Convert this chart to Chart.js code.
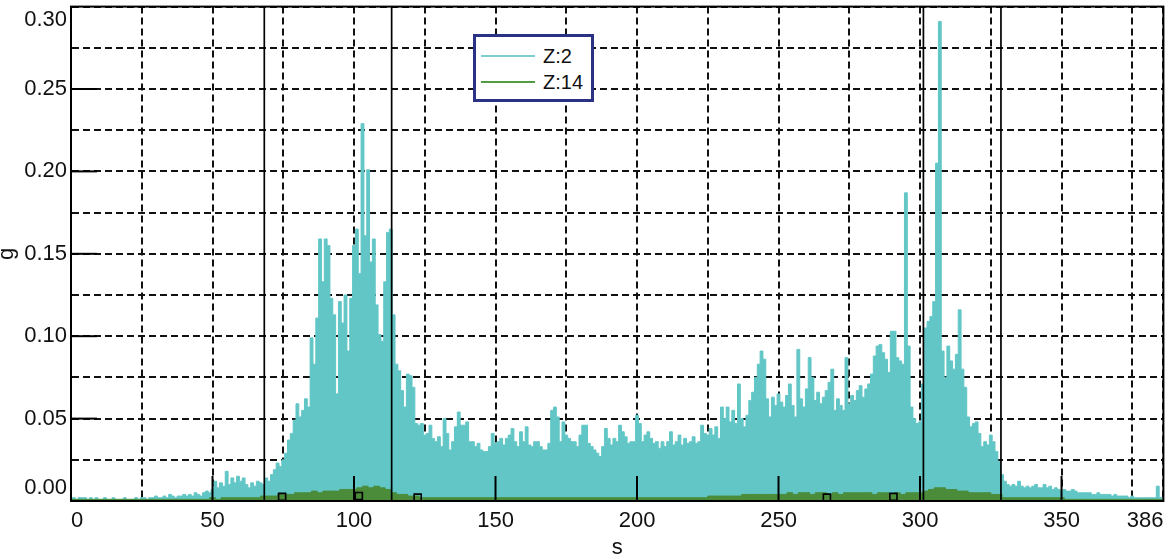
<!DOCTYPE html>
<html>
<head>
<meta charset="utf-8">
<script src="https://cdn.jsdelivr.net/npm/chart.js@4.4.1/dist/chart.umd.min.js"></script>
<style>
  body { margin: 0; background: #fff; }
  #wrap { position: relative; width: 1170px; height: 560px; }
  #legend {
    position: absolute; left: 473px; top: 34px; width: 121px; height: 68px;
    box-sizing: border-box; border: 3px solid #2b3183; background: #fff;
    font-family: "Liberation Sans", Arial, sans-serif; font-size: 20px; color: #111;
  }
  .item { position: absolute; left: 5px; height: 24px; display: flex; align-items: center; }
  .swatch { width: 54px; height: 2px; margin-right: 8px; }
</style>
</head>
<body>
<div id="wrap">
  <canvas id="chart" width="1170" height="560"></canvas>
  <div id="legend"></div>
</div>
<script>
// time axis in seconds, acceleration in g
const xTicks = [0, 25, 50, 75, 100, 125, 150, 175, 200, 225, 250, 275, 300, 325, 350, 375, 386]
const yTicks = [0, 0.025, 0.05, 0.075, 0.1, 0.125, 0.15, 0.175, 0.2, 0.225, 0.25, 0.275, 0.3]
const xMajor = [50, 100, 150, 200, 250, 300, 350]
const yMajor = [0.05, 0.1, 0.15, 0.2, 0.25]

// vertical marker lines and the small square markers
const eventTimes = [68.3, 113.3, 301.2, 328.6]
const squareTimes = [74.6, 101.7, 122.5, 267.1, 290.6]
const squareValues = [0.0025, 0.003, 0.002, 0.002, 0.0025]

// Z:2, one value per second (0..386)
const z2Step = 1
const z2 = [
  0.001,0.002,0.001,0.002,0.002,0.002,0.001,0.002,0.001,0.002,
  0.001,0.001,0.002,0.001,0.001,0.002,0.001,0.001,0.001,0.002,
  0.001,0.001,0.001,0.002,0.001,0.002,0.002,0.001,0.002,0.002,
  0.003,0.002,0.002,0.003,0.002,0.004,0.003,0.002,0.003,0.003,
  0.004,0.003,0.004,0.003,0.005,0.004,0.003,0.005,0.006,0.005,
  0.007,0.012,0.008,0.011,0.009,0.018,0.010,0.014,0.011,0.015,
  0.012,0.014,0.010,0.008,0.011,0.009,0.012,0.011,0.010,0.014,
  0.012,0.016,0.019,0.023,0.021,0.025,0.029,0.037,0.041,0.049,
  0.059,0.051,0.055,0.062,0.057,0.099,0.083,0.111,0.159,0.133,
  0.159,0.155,0.123,0.113,0.065,0.121,0.108,0.125,0.091,0.123,
  0.155,0.165,0.138,0.229,0.161,0.201,0.145,0.159,0.119,0.101,
  0.097,0.133,0.163,0.165,0.113,0.083,0.079,0.067,0.057,0.077,
  0.076,0.069,0.047,0.046,0.047,0.040,0.041,0.046,0.038,0.036,
  0.039,0.033,0.050,0.041,0.031,0.036,0.045,0.054,0.046,0.046,
  0.048,0.036,0.036,0.033,0.035,0.031,0.030,0.030,0.033,0.041,
  0.035,0.036,0.038,0.034,0.038,0.040,0.044,0.036,0.033,0.042,
  0.036,0.045,0.034,0.033,0.036,0.036,0.033,0.031,0.031,0.035,
  0.055,0.057,0.051,0.036,0.048,0.040,0.038,0.036,0.036,0.033,
  0.040,0.046,0.046,0.035,0.033,0.031,0.029,0.027,0.033,0.044,
  0.038,0.034,0.038,0.036,0.046,0.042,0.039,0.035,0.036,0.036,
  0.052,0.047,0.036,0.040,0.042,0.038,0.035,0.036,0.032,0.036,
  0.033,0.036,0.042,0.034,0.036,0.040,0.034,0.038,0.035,0.036,
  0.039,0.035,0.036,0.046,0.041,0.040,0.044,0.040,0.045,0.038,
  0.057,0.050,0.057,0.048,0.055,0.047,0.071,0.050,0.045,0.052,
  0.061,0.066,0.075,0.083,0.091,0.086,0.062,0.051,0.063,0.058,
  0.065,0.060,0.057,0.064,0.071,0.058,0.051,0.092,0.062,0.057,
  0.068,0.087,0.075,0.061,0.066,0.059,0.063,0.067,0.072,0.080,
  0.055,0.062,0.058,0.055,0.087,0.059,0.064,0.061,0.067,0.070,
  0.063,0.068,0.071,0.077,0.088,0.094,0.095,0.090,0.086,0.078,
  0.103,0.103,0.087,0.085,0.083,0.187,0.094,0.057,0.050,0.047,
  0.048,0.071,0.105,0.109,0.112,0.121,0.205,0.291,0.091,0.075,
  0.094,0.085,0.080,0.089,0.116,0.080,0.069,0.051,0.045,0.047,
  0.048,0.041,0.033,0.036,0.034,0.040,0.036,0.030,0.024,0.016,
  0.012,0.010,0.009,0.010,0.009,0.012,0.009,0.008,0.009,0.008,
  0.009,0.010,0.008,0.008,0.010,0.008,0.009,0.007,0.008,0.007,
  0.006,0.007,0.006,0.006,0.007,0.006,0.005,0.005,0.005,0.005,
  0.005,0.004,0.004,0.005,0.004,0.004,0.004,0.004,0.003,0.004,
  0.003,0.003,0.003,0.003,0.002,0.003,0.002,0.002,0.002,0.002,
  0.002,0.002,0.002,0.002,0.009,0.002,0.001
]

// Z:14, one value every 2 seconds (0..386)
const z14Step = 2
const z14 = [
  0.001,0.001,0.001,0.001,0.001,0.001,0.001,0.001,0.001,0.001,
  0.001,0.001,0.001,0.001,0.001,0.001,0.001,0.001,0.001,0.001,
  0.001,0.001,0.001,0.001,0.001,0.002,0.001,0.002,0.002,0.002,
  0.002,0.002,0.002,0.002,0.003,0.003,0.003,0.004,0.004,0.004,
  0.005,0.005,0.005,0.006,0.005,0.006,0.006,0.006,0.007,0.007,
  0.007,0.008,0.009,0.008,0.009,0.008,0.007,0.005,0.004,0.004,
  0.003,0.003,0.002,0.002,0.002,0.002,0.002,0.002,0.002,0.002,
  0.002,0.002,0.002,0.002,0.002,0.002,0.002,0.002,0.002,0.002,
  0.002,0.002,0.002,0.002,0.002,0.002,0.002,0.002,0.002,0.002,
  0.002,0.002,0.002,0.002,0.002,0.002,0.002,0.002,0.002,0.002,
  0.002,0.002,0.002,0.002,0.002,0.002,0.002,0.002,0.002,0.002,
  0.002,0.002,0.002,0.003,0.003,0.003,0.003,0.003,0.003,0.004,
  0.004,0.004,0.004,0.004,0.004,0.004,0.004,0.005,0.004,0.005,
  0.005,0.004,0.005,0.005,0.004,0.005,0.004,0.005,0.005,0.005,
  0.005,0.005,0.004,0.005,0.005,0.004,0.005,0.004,0.005,0.005,
  0.005,0.006,0.007,0.008,0.008,0.007,0.007,0.006,0.006,0.005,
  0.005,0.005,0.005,0.004,0.004,0.002,0.002,0.002,0.002,0.002,
  0.002,0.002,0.002,0.002,0.002,0.002,0.001,0.001,0.001,0.001,
  0.001,0.001,0.001,0.001,0.001,0.001,0.001,0.001,0.001,0.001,
  0.001,0.001,0.001,0.001
]

const tealColor = '#62c6c6'
const greenColor = '#4a8c3a'
const gridColor = '#111'
const fontFamily = '"Liberation Sans", Arial, sans-serif'

const toPoints = (values, step) => values.map((v, i) => ({x: i * step, y: v}))

// black lines drawn over the data: event lines, inner ticks, frame
const overlayLines = {
  id: 'overlayLines',
  afterDatasetsDraw(chart) {
    const {ctx, chartArea: a, scales: {x, y}} = chart
    ctx.save()
    ctx.strokeStyle = '#000'
    ctx.lineWidth = 1.7
    eventTimes.forEach(t => {
      let px = x.getPixelForValue(t)
      ctx.beginPath()
      ctx.moveTo(px, a.top)
      ctx.lineTo(px, a.bottom)
      ctx.stroke()
    })
    ctx.lineWidth = 2
    xMajor.forEach(v => {
      let px = x.getPixelForValue(v)
      ctx.beginPath()
      ctx.moveTo(px, a.bottom)
      ctx.lineTo(px, a.bottom - 25)
      ctx.stroke()
    })
    yMajor.forEach(v => {
      let py = y.getPixelForValue(v)
      ctx.beginPath()
      ctx.moveTo(a.left, py)
      ctx.lineTo(a.left + 26, py)
      ctx.stroke()
    })
    ctx.strokeRect(a.left, a.top, a.right - a.left, a.bottom - a.top)
    ctx.restore()
  }
}

const datasets = [
  {
    label: 'markers',
    data: squareTimes.map((t, i) => ({x: t, y: squareValues[i]})),
    showLine: false,
    pointStyle: 'rect',
    pointRadius: 5,
    pointBorderWidth: 1.6,
    pointBorderColor: '#000',
    pointBackgroundColor: 'rgba(0,0,0,0)',
    order: 1
  },
  {
    label: 'Z:14',
    data: toPoints(z14, z14Step),
    borderColor: greenColor,
    backgroundColor: greenColor,
    borderWidth: 1,
    fill: 'origin',
    pointRadius: 0,
    stepped: 'middle',
    order: 2
  },
  {
    label: 'Z:2',
    data: toPoints(z2, z2Step),
    borderColor: tealColor,
    backgroundColor: tealColor,
    borderWidth: 1,
    fill: 'origin',
    pointRadius: 0,
    stepped: 'middle',
    order: 3
  }
]

new Chart(document.getElementById('chart'), {
  type: 'line',
  data: {datasets},
  plugins: [overlayLines],
  options: {
    responsive: false,
    devicePixelRatio: 1,
    animation: false,
    layout: {padding: {left: 0, right: 2, top: 3, bottom: 0}},
    plugins: {
      legend: {display: false},
      tooltip: {enabled: false}
    },
    scales: {
      x: {
        type: 'linear',
        min: 0,
        max: 386,
        afterBuildTicks: s => { s.ticks = xTicks.map(v => ({value: v})) },
        afterFit: s => {
          s.height = 59
          s.paddingLeft = 0; s.paddingRight = 0; s.paddingTop = 0; s.paddingBottom = 0
        },
        ticks: {
          autoSkip: false,
          maxRotation: 0,
          align: 'inner',
          padding: 7,
          color: '#111',
          font: {family: fontFamily, size: 22},
          callback: v => (v % 50 === 0 || v === 386) ? String(v) : ''
        },
        grid: {color: gridColor, lineWidth: 2, drawTicks: false},
        border: {display: true, color: '#000', width: 2, dash: [7, 4]},
        title: {
          display: true,
          text: 's',
          color: '#111',
          font: {family: fontFamily, size: 22},
          padding: {top: 0, bottom: -1}
        }
      },
      y: {
        min: 0,
        max: 0.3,
        afterBuildTicks: s => { s.ticks = yTicks.map(v => ({value: v})) },
        afterFit: s => {
          s.width = 71
          s.paddingLeft = 0; s.paddingRight = 0; s.paddingTop = 0; s.paddingBottom = 0
        },
        ticks: {
          autoSkip: false,
          padding: 4,
          color: '#111',
          font: {family: fontFamily, size: 22},
          // end labels are nudged inside the frame
          callback: (v, i) => {
            if (i % 2 !== 0) return ''
            let t = v.toFixed(2)
            if (i === 0) return [t, '']
            if (i === yTicks.length - 1) return ['', t]
            return t
          }
        },
        grid: {color: gridColor, lineWidth: 2, drawTicks: false},
        border: {display: true, color: '#000', width: 2, dash: [7, 4]},
        title: {
          display: true,
          text: 'g',
          color: '#111',
          font: {family: fontFamily, size: 22},
          padding: {top: -6, bottom: 0}
        }
      }
    }
  }
})

// legend box drawn as html over the plot
const legendDiv = document.getElementById('legend')
const legendItems = [
  {label: 'Z:2', color: '#7dd0d0'},
  {label: 'Z:14', color: '#519d40'}
]
legendItems.forEach((item, i) => {
  let row = document.createElement('div')
  row.className = 'item'
  row.style.top = (7 + i * 26) + 'px'
  let sw = document.createElement('span')
  sw.className = 'swatch'
  sw.style.background = item.color
  let txt = document.createElement('span')
  txt.innerText = item.label
  row.appendChild(sw)
  row.appendChild(txt)
  legendDiv.appendChild(row)
})
</script>
</body>
</html>
